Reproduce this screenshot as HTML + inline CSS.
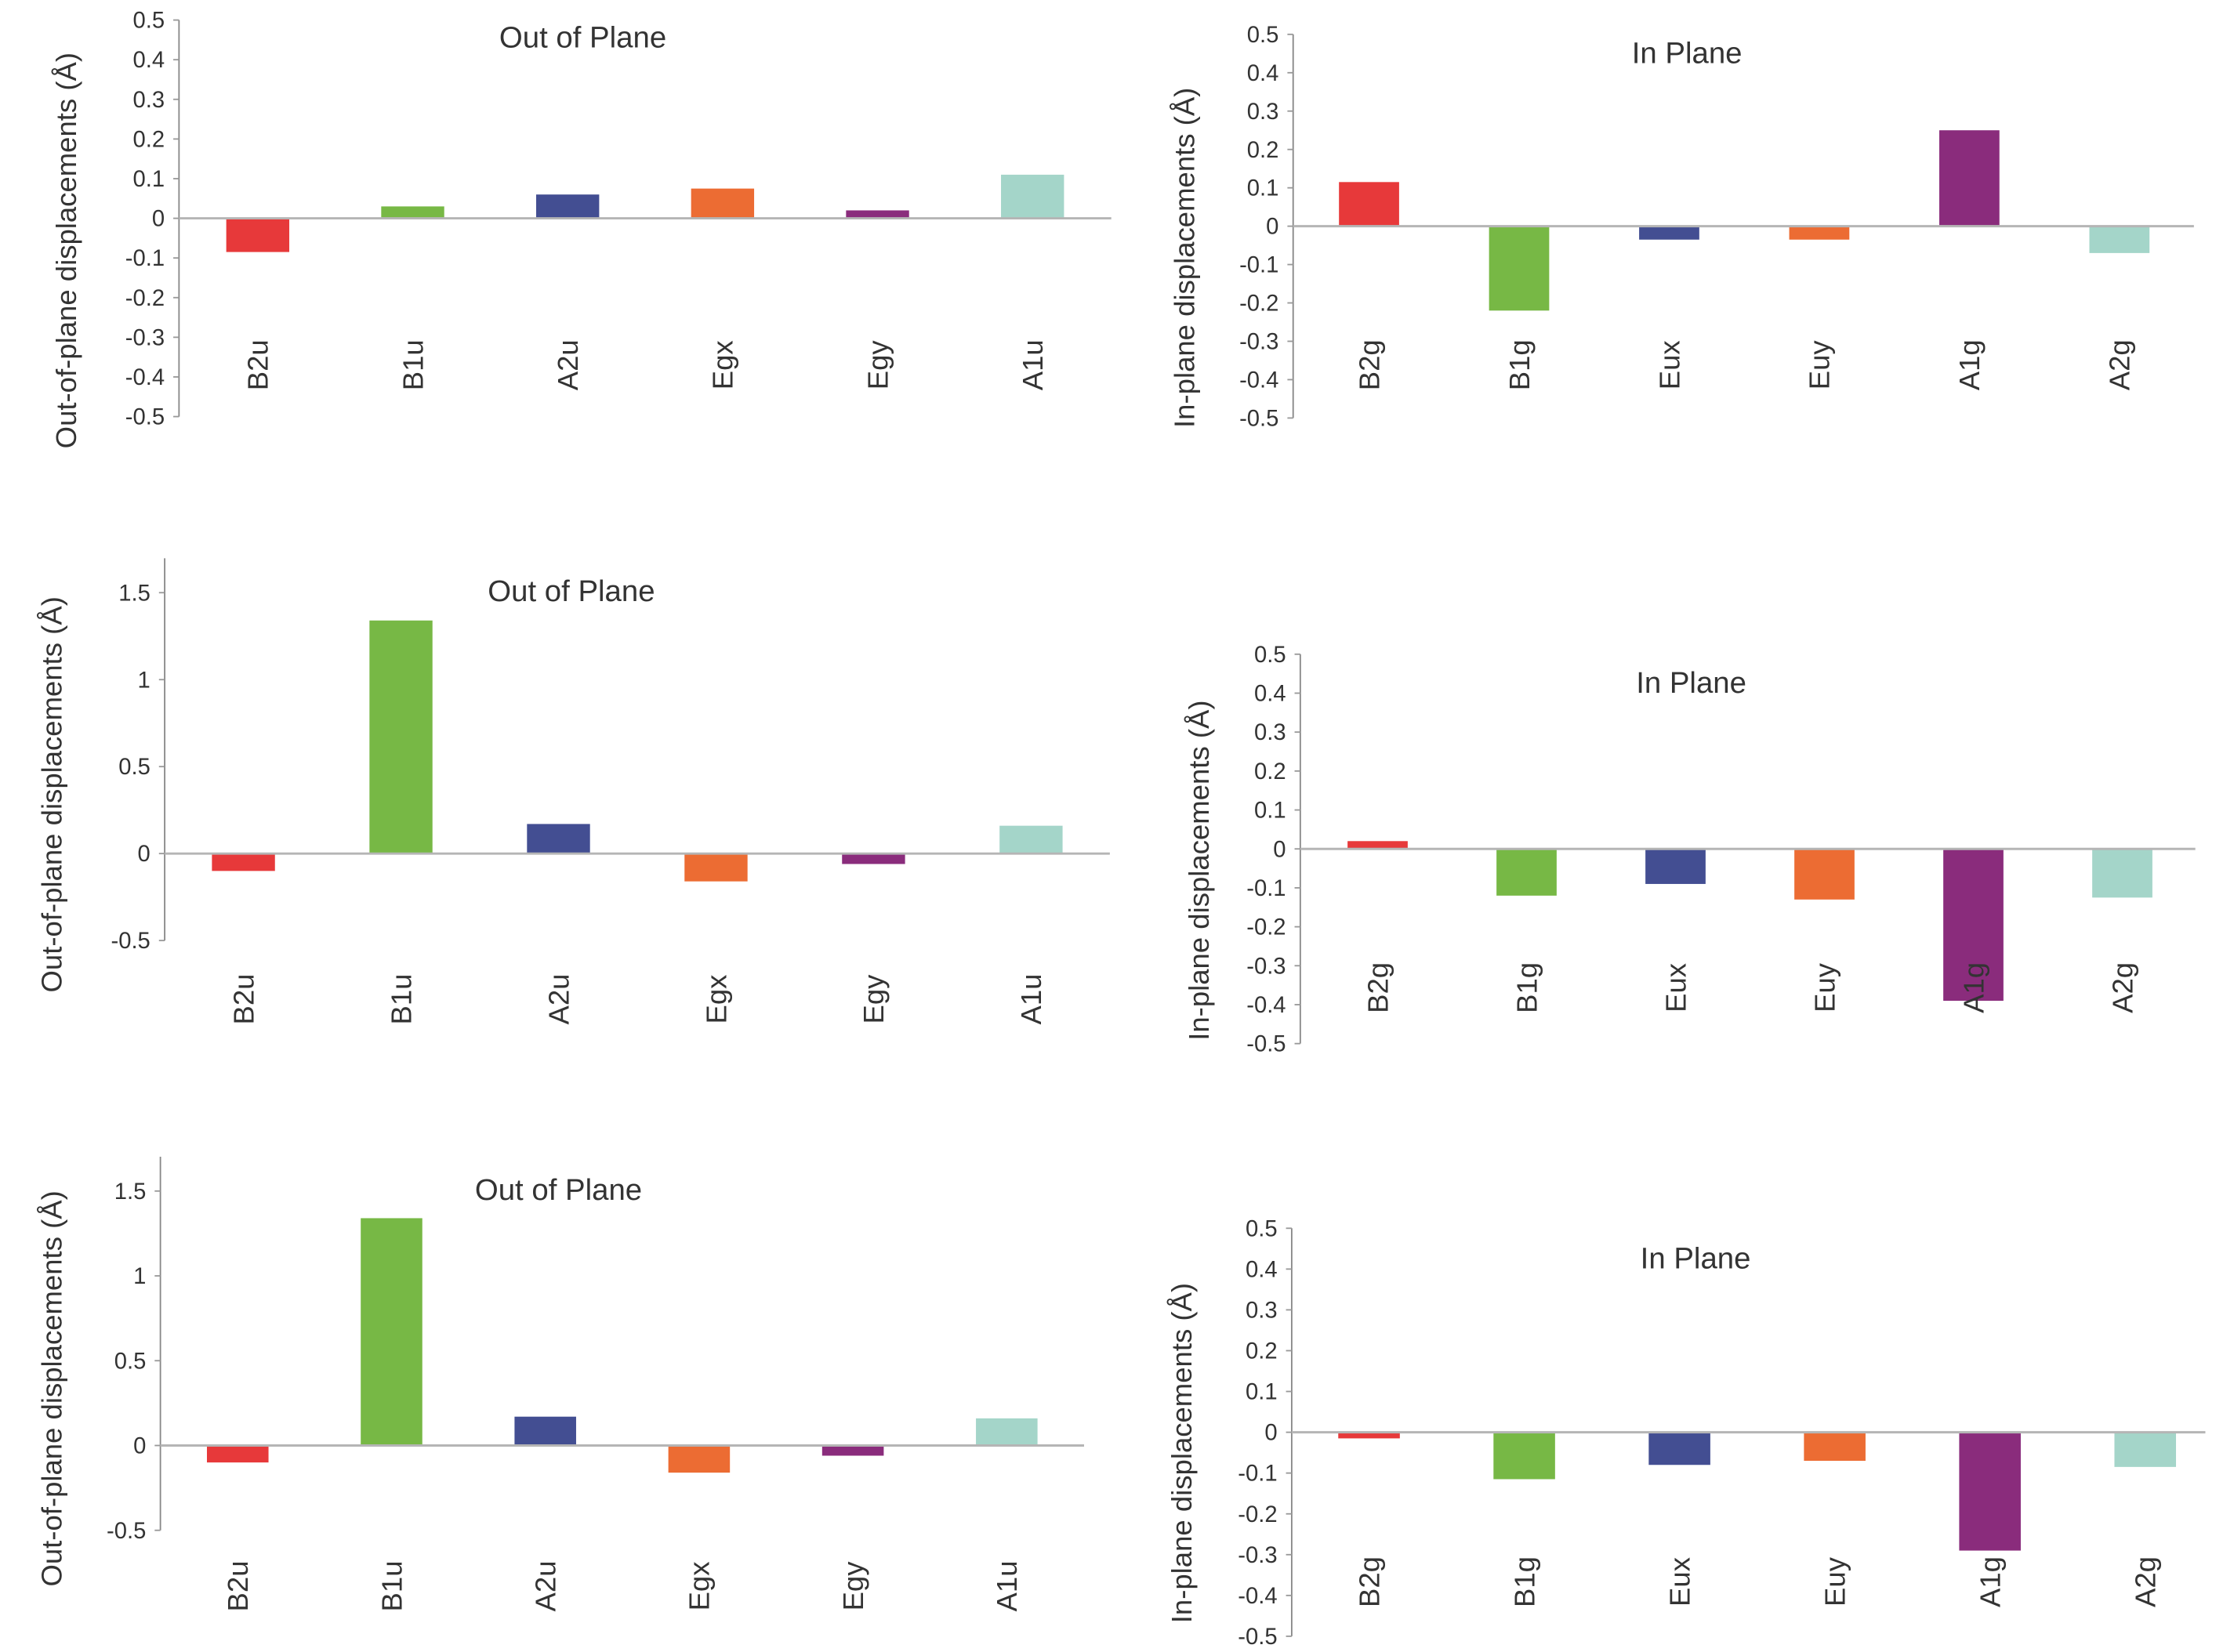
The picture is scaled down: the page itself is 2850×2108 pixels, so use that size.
<!DOCTYPE html>
<html><head><meta charset="utf-8"><style>
html,body{margin:0;padding:0;background:#fff;}
svg{display:block;}
text{font-family:"Liberation Sans",sans-serif;fill:#333;}
</style></head><body>
<svg id="chart" width="2850" height="2108" viewBox="0 0 1560 1154" preserveAspectRatio="none" xmlns="http://www.w3.org/2000/svg"></svg>
<script>
const colors=["#e7393a","#77b845","#434e92","#ec6c33","#8a2c7c","#a4d5c9"];
const catsOut=["B2u","B1u","A2u","Egx","Egy","A1u"];
const catsIn=["B2g","B1g","Eux","Euy","A1g","A2g"];
const vals1=[-0.085,0.03,0.06,0.075,0.02,0.11];
const vals2=[0.115,-0.22,-0.035,-0.035,0.25,-0.07];
const vals3=[-0.1,1.34,0.17,-0.16,-0.06,0.16];
const vals4=[0.02,-0.12,-0.09,-0.13,-0.39,-0.125];
const vals5=[-0.1,1.34,0.17,-0.16,-0.06,0.16];
const vals6=[-0.015,-0.115,-0.08,-0.07,-0.29,-0.085];
const ticksSmall=[0.5,0.4,0.3,0.2,0.1,0,-0.1,-0.2,-0.3,-0.4,-0.5];
const ticksBig=[1.5,1,0.5,0,-0.5];
const tickLabelsSmall=["0.5","0.4","0.3","0.2","0.1","0","-0.1","-0.2","-0.3","-0.4","-0.5"];
const tickLabelsBig=["1.5","1","0.5","0","-0.5"];

const panels=[
 {name:"top-left",vals:vals1,cats:catsOut,ticks:ticksSmall,tl:tickLabelsSmall,ax:125,vTop:0.5,yTop:14,vBot:-0.5,yBot:291,axTop:14,right:776,x0:180,dx:108.2,bw:44,title:"Out of Plane",tx:407,ty:33,ylab:"Out-of-plane displacements (Å)",ylx:53,yly:175,laby:255},
 {name:"top-right",vals:vals2,cats:catsIn,ticks:ticksSmall,tl:tickLabelsSmall,ax:903,vTop:0.5,yTop:24,vBot:-0.5,yBot:292,axTop:24,right:1532,x0:956,dx:104.8,bw:42,title:"In Plane",tx:1178,ty:44,ylab:"In-plane displacements (Å)",ylx:834,yly:180,laby:255},
 {name:"middle-left",vals:vals3,cats:catsOut,ticks:ticksBig,tl:tickLabelsBig,ax:115,vTop:1.5,yTop:414,vBot:-0.5,yBot:657,axTop:390,right:775,x0:170,dx:110,bw:44,title:"Out of Plane",tx:399,ty:420,ylab:"Out-of-plane displacements (Å)",ylx:43,yly:555,laby:698},
 {name:"middle-right",vals:vals4,cats:catsIn,ticks:ticksSmall,tl:tickLabelsSmall,ax:908,vTop:0.5,yTop:457,vBot:-0.5,yBot:729,axTop:457,right:1533,x0:962,dx:104,bw:42,title:"In Plane",tx:1181,ty:484,ylab:"In-plane displacements (Å)",ylx:844,yly:608,laby:690},
 {name:"bottom-left",vals:vals5,cats:catsOut,ticks:ticksBig,tl:tickLabelsBig,ax:112,vTop:1.5,yTop:832,vBot:-0.5,yBot:1069,axTop:808,right:757,x0:166,dx:107.4,bw:43,title:"Out of Plane",tx:390,ty:838,ylab:"Out-of-plane displacements (Å)",ylx:43,yly:970,laby:1108},
 {name:"bottom-right",vals:vals6,cats:catsIn,ticks:ticksSmall,tl:tickLabelsSmall,ax:902,vTop:0.5,yTop:858,vBot:-0.5,yBot:1143,axTop:858,right:1540,x0:956,dx:108.4,bw:43,title:"In Plane",tx:1184,ty:886,ylab:"In-plane displacements (Å)",ylx:832,yly:1015,laby:1105}
];
const svg=document.getElementById('chart');
const NS="http://www.w3.org/2000/svg";
function mk(tag,attrs,parent){const e=document.createElementNS(NS,tag);for(const k in attrs)e.setAttribute(k,attrs[k]);parent.appendChild(e);return e;}
panels.forEach(p=>{
 const g=mk('g',{},svg);
 
 
 const y=v=>p.yTop+(p.vTop-v)*(p.yBot-p.yTop)/(p.vTop-p.vBot);
 const x=i=>p.x0+i*p.dx;
 p.vals.forEach((v,i)=>{
  const y0=y(0),y1=y(v);
  const r=mk('rect',{x:x(i)-p.bw/2,y:Math.min(y0,y1),width:p.bw,height:Math.max(1,Math.abs(y1-y0)),fill:colors[i]},g);
  
  
 });
 const a=mk('line',{x1:p.ax,y1:p.axTop,x2:p.ax,y2:p.yBot,stroke:'#888','stroke-width':1},g);
 
 
 const z=mk('line',{x1:p.ax,y1:y(0),x2:p.right,y2:y(0),stroke:'#b5b5b5','stroke-width':1.6},g);
 
 
 p.ticks.forEach((t,i)=>{
  mk('line',{x1:p.ax-4,y1:y(t),x2:p.ax,y2:y(t),stroke:'#999','stroke-width':1},g);
  const tx=mk('text',{x:p.ax-10,y:y(t)+5.5,'text-anchor':'end','font-size':16},g);
  tx.textContent=p.tl[i];
  
  
 });
 p.cats.forEach((c,i)=>{
  const t=mk('text',{x:0,y:0,'text-anchor':'middle','font-size':20,transform:`translate(${x(i)+7},${p.laby}) rotate(-90)`},g);
  t.textContent=c;
  
  
 });
 const ti=mk('text',{x:p.tx,y:p.ty,'text-anchor':'middle','font-size':21},g);
 ti.textContent=p.title;
 
 
 const yl=mk('text',{x:0,y:0,'text-anchor':'middle','font-size':20,transform:`translate(${p.ylx},${p.yly}) rotate(-90)`},g);
 yl.textContent=p.ylab;
 
 
});
</script>
</body></html>
